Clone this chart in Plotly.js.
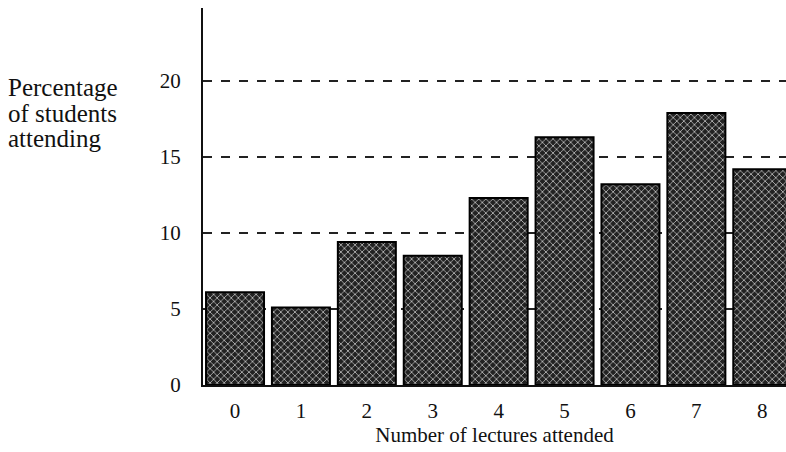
<!DOCTYPE html>
<html>
<head>
<meta charset="utf-8">
<script src="https://cdn.plot.ly/plotly-3.0.1.min.js"></script>
<style>html,body{margin:0;padding:0;background:#fff;}#chart{width:786px;height:452px;}</style>
</head>
<body>
<div id="chart"></div>
<script>
const lectures = [0, 1, 2, 3, 4, 5, 6, 7, 8];
const percentages = [6.1, 5.1, 9.4, 8.5, 12.3, 16.3, 13.2, 17.9, 14.2];
const yTicks = [0, 5, 10, 15, 20];
const xTitle = "Number of lectures attended";
const yTitleLines = ["Percentage", "of students", "attending"];

const font = "Liberation Serif, Times New Roman, serif";

const trace = {
  type: "bar",
  x: lectures,
  y: percentages,
  width: 0.88,
  marker: {
    color: "#222",
    line: {color: "#000", width: 2},
    pattern: {shape: "x", fgcolor: "#dcdcdc", bgcolor: "#222", size: 5, solidity: 0.25}
  },
  hoverinfo: "none"
};

const plotH = 452 - 8 - 67;
const lineCentersPx = [88, 113, 138];

const layout = {
  width: 786, height: 452,
  margin: {l: 203, r: 0, t: 8, b: 67},
  paper_bgcolor: "#fff", plot_bgcolor: "#fff",
  showlegend: false,
  font: {family: font, size: 22, color: "#111"},
  xaxis: {
    range: [-0.486, 8.36],
    tickvals: lectures,
    ticktext: lectures.map(String),
    ticks: "", showgrid: false, zeroline: false,
    showline: true, linecolor: "#111", linewidth: 2,
    tickfont: {family: font, size: 21, color: "#111"},
    ticklabelstandoff: 6,
    title: {text: xTitle, font: {family: font, size: 21, color: "#111"}, standoff: 0}
  },
  yaxis: {
    range: [0, 24.8],
    tickvals: yTicks,
    ticktext: yTicks.map(String),
    ticks: "", showgrid: true, gridcolor: "#222", griddash: "dash", gridwidth: 1.5,
    zeroline: false, showline: true, linecolor: "#111", linewidth: 2,
    tickfont: {family: font, size: 21, color: "#111"},
    ticklabelstandoff: 16
  },
  annotations: yTitleLines.map((t, i) => ({
    text: t, xref: "paper", yref: "paper", x: (6 - 203) / 583, y: (452 - 67 - lineCentersPx[i]) / plotH,
    xanchor: "left", yanchor: "middle", align: "left", showarrow: false,
    font: {family: font, size: 25, color: "#111"}
  }))
};

Plotly.newPlot("chart", [trace], layout, {staticPlot: true});
</script>
</body>
</html>
